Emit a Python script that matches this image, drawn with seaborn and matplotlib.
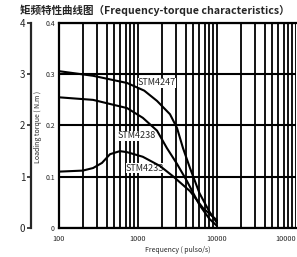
import numpy as np
import pandas as pd
import matplotlib
matplotlib.use("Agg")
import matplotlib.pyplot as plt
import seaborn as sns
from matplotlib.ticker import FixedLocator, NullFormatter

sns.set_style("white")
plt.rcParams['font.family'] = ['Noto Sans CJK SC', 'DejaVu Sans']

# Data (frequency in pulse/s, torque in N.m)
freq_4247 = [100, 270, 726, 1200, 1740, 2540, 3120, 3710, 4550, 6000, 8000, 10000]
torque_4247 = [0.306, 0.297, 0.283, 0.268, 0.248, 0.222, 0.195, 0.156, 0.117, 0.068, 0.032, 0.010]
freq_4238 = [100, 270, 726, 1150, 1740, 2320, 3120, 4150, 6000, 8000, 10000]
torque_4238 = [0.255, 0.250, 0.234, 0.215, 0.190, 0.156, 0.125, 0.092, 0.045, 0.018, 0.004]
freq_4233 = [100, 200, 270, 350, 442, 590, 726, 1150, 1900, 2770, 4550, 6640, 10000]
torque_4233 = [0.110, 0.112, 0.117, 0.127, 0.144, 0.150, 0.148, 0.139, 0.121, 0.101, 0.072, 0.039, 0.015]
series_names = ["STM4247", "STM4238", "STM4233"]
xtick_vals = [100, 1000, 10000, 100000]
xtick_labels = ["100", "1000", "10000", "10000"]
ytick_vals = [0, 0.1, 0.2, 0.3, 0.4]
ytick_labels = ["0", "0.1", "0.2", "0.3", "0.4"]
left_ticks = [0, 1, 2, 3, 4]

frames = []
for name, f, t in zip(series_names, [freq_4247, freq_4238, freq_4233],
                      [torque_4247, torque_4238, torque_4233]):
    frames.append(pd.DataFrame({"freq": f, "torque": t, "model": name}))
df = pd.concat(frames, ignore_index=True)

W, H = 297, 257
fig = plt.figure(figsize=(W / 100, H / 100), dpi=100)
ax = fig.add_axes([59 / W, (H - 228) / H, 237 / W, 205 / H])

sns.lineplot(data=df, x="freq", y="torque", units="model", estimator=None,
             color="black", linewidth=1.5, ax=ax, legend=False, sort=False)

ax.set_xscale("log")
ax.set_xlim(100, 100000)
ax.set_ylim(0, 0.4)

# grid: vertical lines at every decade subdivision
minor = [m * 10 ** e for e in range(2, 5) for m in range(2, 10)]
ax.xaxis.set_major_locator(FixedLocator(xtick_vals))
ax.xaxis.set_minor_locator(FixedLocator(minor))
ax.xaxis.set_minor_formatter(NullFormatter())
ax.set_xticklabels(xtick_labels)
ax.set_yticks(ytick_vals)
ax.set_yticklabels(ytick_labels)
ax.grid(True, which="both", axis="x", color="black", linewidth=1.3)
ax.grid(True, which="major", axis="y", color="black", linewidth=1.5)
ax.set_axisbelow(True)
ax.tick_params(axis="both", which="both", length=0, labelsize=5, pad=3)
ax.tick_params(axis="x", pad=5, labelsize=5.3)
ax.get_xticklabels()[-1].set_horizontalalignment("right")
for s in ["left", "top", "bottom"]:
    ax.spines[s].set_color("black")
    ax.spines[s].set_linewidth(1.6)
ax.spines["right"].set_visible(False)
ax.set_xlabel("Frequency ( pulso/s)", fontsize=5, labelpad=2)
ax.set_ylabel("")

# curve labels (drawn above grid, beneath curves)
lbl = dict(fontsize=6.5, ha="center", va="center", zorder=1.5,
           bbox=dict(facecolor="white", edgecolor="none", pad=0.2))
ax.text(1740, 0.283, "STM4247", **lbl)
ax.text(970, 0.180, "STM4238", **lbl)
ax.text(1230, 0.117, "STM4233", **lbl)

# secondary left axis
sec = ax.secondary_yaxis(-28 / 237, functions=(lambda y: y * 10, lambda y: y / 10))
sec.set_yticks(left_ticks)
sec.tick_params(length=3, width=1.2, labelsize=7, pad=1)
sec.spines["left"].set_linewidth(1.6)

fig.text(38 / W, 1 - 127 / H, "Loading torque ( N.m )", rotation=90,
         fontsize=5, ha="center", va="center")
fig.text(155 / W, 1 - 10 / H, "矩频特性曲线图（Frequency-torque characteristics）",
         fontsize=7.6, fontweight="bold", ha="center", va="center")

fig.savefig("out.png", dpi=100)
